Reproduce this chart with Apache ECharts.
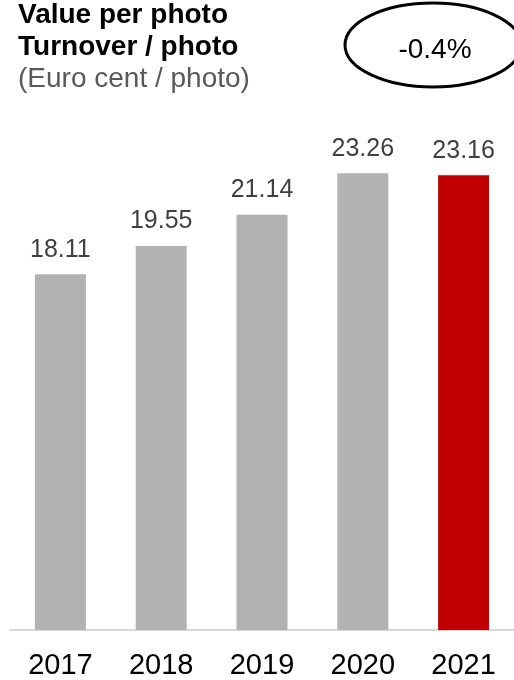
<!DOCTYPE html>
<html>
<head>
<meta charset="utf-8">
<style>
  html, body { margin: 0; padding: 0; background: #fff; }
  #chart { width: 514px; height: 680px; }
</style>
<script src="https://cdn.jsdelivr.net/npm/echarts@6/dist/echarts.min.js"></script>
</head>
<body>
<div id="chart"></div>
<script>
// Turnover per photo, euro cent
const years = ['2017', '2018', '2019', '2020', '2021'];
const valuePerPhoto = [18.11, 19.55, 21.14, 23.26, 23.16];
const changeLabel = '-0.4%';

const grey = '#b2b2b2';
const red = '#c00000';
const fontFamily = '"Liberation Sans", Arial, sans-serif';

const chart = echarts.init(document.getElementById('chart'), null, { renderer: 'canvas' });

chart.setOption({
  animation: false,
  backgroundColor: '#ffffff',
  grid: { left: 10, right: -4, top: 139, bottom: 50, containLabel: false },
  xAxis: {
    type: 'category',
    data: years,
    axisLine: { show: true, lineStyle: { color: '#d9d9d9', width: 2 } },
    axisTick: { show: false },
    axisLabel: {
      color: '#000000',
      fontFamily: fontFamily,
      fontSize: 29,
      margin: 21
    }
  },
  yAxis: {
    type: 'value',
    min: 0,
    max: 25,
    show: false,
    splitLine: { show: false }
  },
  series: [{
    type: 'bar',
    barWidth: 51,
    data: valuePerPhoto.map((v, i) => ({
      value: v,
      itemStyle: { color: i === valuePerPhoto.length - 1 ? red : grey }
    })),
    label: {
      show: true,
      position: 'top',
      distance: 12,
      color: '#404040',
      fontFamily: fontFamily,
      fontSize: 25,
      formatter: p => p.value.toFixed(2)
    }
  }],
  graphic: [
    {
      type: 'text',
      left: 18,
      top: 1,
      style: {
        text: 'Value per photo',
        fill: '#000000',
        font: 'bold 28px ' + fontFamily
      }
    },
    {
      type: 'text',
      left: 18,
      top: 33,
      style: {
        text: 'Turnover / photo',
        fill: '#000000',
        font: 'bold 28px ' + fontFamily
      }
    },
    {
      type: 'text',
      left: 18,
      top: 65,
      style: {
        text: '(Euro cent / photo)',
        fill: '#595959',
        font: '28px ' + fontFamily
      }
    },
    {
      type: 'ellipse',
      shape: { cx: 433, cy: 45, rx: 88, ry: 42 },
      style: { fill: 'none', stroke: '#000000', lineWidth: 3 }
    },
    {
      type: 'text',
      x: 435,
      y: 50,
      style: {
        text: changeLabel,
        fill: '#000000',
        font: '28px ' + fontFamily,
        align: 'center',
        verticalAlign: 'middle'
      }
    }
  ]
});
</script>
</body>
</html>
